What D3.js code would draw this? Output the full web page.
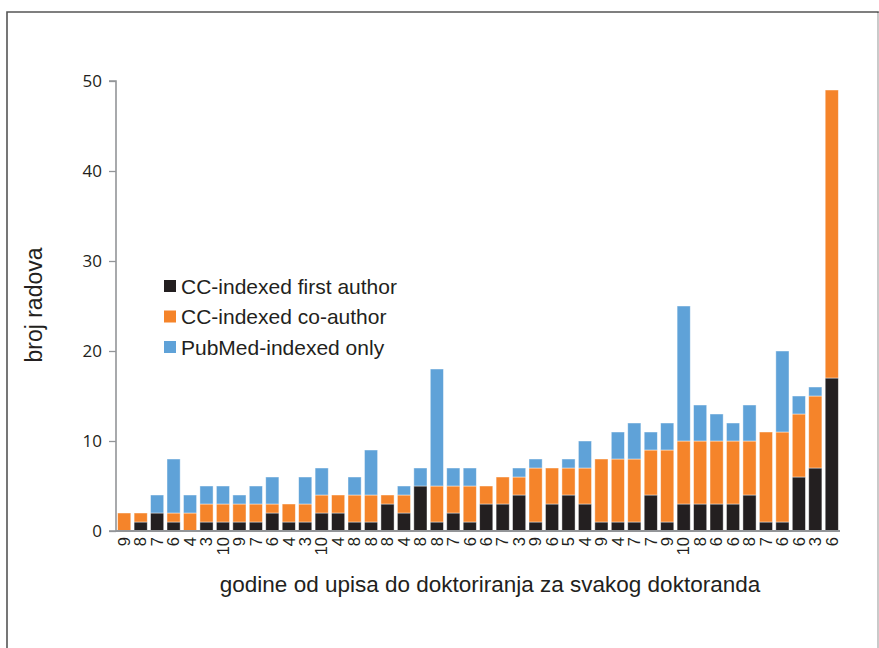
<!DOCTYPE html>
<html>
<head>
<meta charset="utf-8">
<script src="https://cdn.jsdelivr.net/npm/d3@7"></script>
<style>
  html, body { margin: 0; padding: 0; background: #fff; }
  svg { display: block; }
</style>
</head>
<body>
<svg id="chart" width="879" height="648"></svg>
<script>
// x-axis category labels (years from enrollment to doctorate, per candidate)
const categories = [9,8,7,6,4,3,10,9,7,6,4,3,10,4,8,8,8,4,8,8,7,6,6,7,3,9,6,5,4,9,4,7,7,9,10,8,6,6,8,7,6,6,3,6];
// series values
const firstAuthor = [0,1,2,1,0,1,1,1,1,2,1,1,2,2,1,1,3,2,5,1,2,1,3,3,4,1,3,4,3,1,1,1,4,1,3,3,3,3,4,1,1,6,7,17];
const coAuthor    = [2,1,0,1,2,2,2,2,2,1,2,2,2,2,3,3,1,2,0,4,3,4,2,3,2,6,4,3,4,7,7,7,5,8,7,7,7,7,6,10,10,7,8,32];
const pubmedOnly  = [0,0,2,6,2,2,2,1,2,3,0,3,3,0,2,5,0,1,2,13,2,2,0,0,1,1,0,1,3,0,3,4,2,3,15,4,3,2,4,0,9,2,1,0];
const seriesNames = ["CC-indexed first author", "CC-indexed co-author", "PubMed-indexed only"];
const seriesColors = ["#231f20", "#f5842a", "#5fa2d8"];
const yTicks = [0,10,20,30,40,50];

const svg = d3.select("#chart");

// outer frame
svg.append("path")
  .attr("d", "M7,648 L7,12 L878,12 L878,648")
  .attr("fill", "none").attr("stroke", "#555").attr("stroke-width", 1.6);
svg.append("line").attr("x1", 878).attr("x2", 878).attr("y1", 13).attr("y2", 648)
  .attr("stroke", "#e6e6e6").attr("stroke-width", 1.5);

const pL = 116, pR = 840, pT = 81, pB = 531;

const x = d3.scaleBand().domain(d3.range(categories.length)).range([pL, pR]).paddingInner(0.2).paddingOuter(0.1);
const y = d3.scaleLinear().domain([0, 50]).range([pB, pT]);

const rows = categories.map((c, i) => ({ i, c, s0: firstAuthor[i], s1: coAuthor[i], s2: pubmedOnly[i] }));
const stack = d3.stack().keys(["s0", "s1", "s2"])(rows);

const g = svg.append("g");
stack.forEach((layer, k) => {
  g.selectAll(null).data(layer.filter(d => d[1] > d[0])).enter().append("rect")
    .attr("x", d => x(d.data.i))
    .attr("width", x.bandwidth())
    .attr("y", d => y(d[1]))
    .attr("height", d => y(d[0]) - y(d[1]))
    .attr("fill", seriesColors[k])
    .attr("stroke", "rgba(255,255,255,0.55)")
    .attr("stroke-width", 0.8);
});

// y axis
const yAxis = d3.axisLeft(y).tickValues(yTicks).tickSize(7).tickPadding(7);
const ya = svg.append("g").attr("transform", `translate(${pL},0)`).call(yAxis);
ya.select(".domain").attr("stroke", "#939598").attr("stroke-width", 1.6).attr("d", `M-7,${pT}H0V${pB}H-7`);
ya.selectAll(".tick line").attr("stroke", "#939598").attr("stroke-width", 1.3);
ya.selectAll(".tick text").attr("font-family", "'Open Sans', sans-serif").attr("font-size", 17).attr("fill", "#231f20");

// x axis
const xAxis = d3.axisBottom(x).tickFormat(i => categories[i]).tickSize(0).tickPadding(0);
const xa = svg.append("g").attr("transform", `translate(0,${pB})`).call(xAxis);
xa.select(".domain").attr("stroke", "#939598").attr("stroke-width", 2.2).attr("d", `M${pL},0H${pR}`);
xa.selectAll(".tick text")
  .attr("font-family", "'Liberation Sans', Arial, sans-serif").attr("font-size", 16.5).attr("fill", "#231f20")
  .attr("transform", "rotate(-90)")
  .attr("text-anchor", "end")
  .attr("x", -6).attr("y", 0).attr("dy", "0.35em");

// axis titles
svg.append("text").attr("x", 490).attr("y", 592).attr("text-anchor", "middle")
  .attr("font-family", "'Liberation Sans', Arial, sans-serif").attr("font-size", 22.5).attr("fill", "#231f20")
  .text("godine od upisa do doktoriranja za svakog doktoranda");
svg.append("text").attr("transform", "translate(42,305) rotate(-90)").attr("text-anchor", "middle")
  .attr("font-family", "'Liberation Sans', Arial, sans-serif").attr("font-size", 23).attr("fill", "#231f20")
  .text("broj radova");

// legend
const leg = svg.append("g");
seriesNames.forEach((n, k) => {
  const cy = 286 + k * 30.5;
  leg.append("rect").attr("x", 164).attr("y", cy - 6).attr("width", 12).attr("height", 12).attr("fill", seriesColors[k]);
  leg.append("text").attr("x", 181).attr("y", cy).attr("dy", "0.36em")
    .attr("font-family", "'Liberation Sans', Arial, sans-serif").attr("font-size", 21).attr("fill", "#231f20")
    .text(n);
});
</script>
</body>
</html>
